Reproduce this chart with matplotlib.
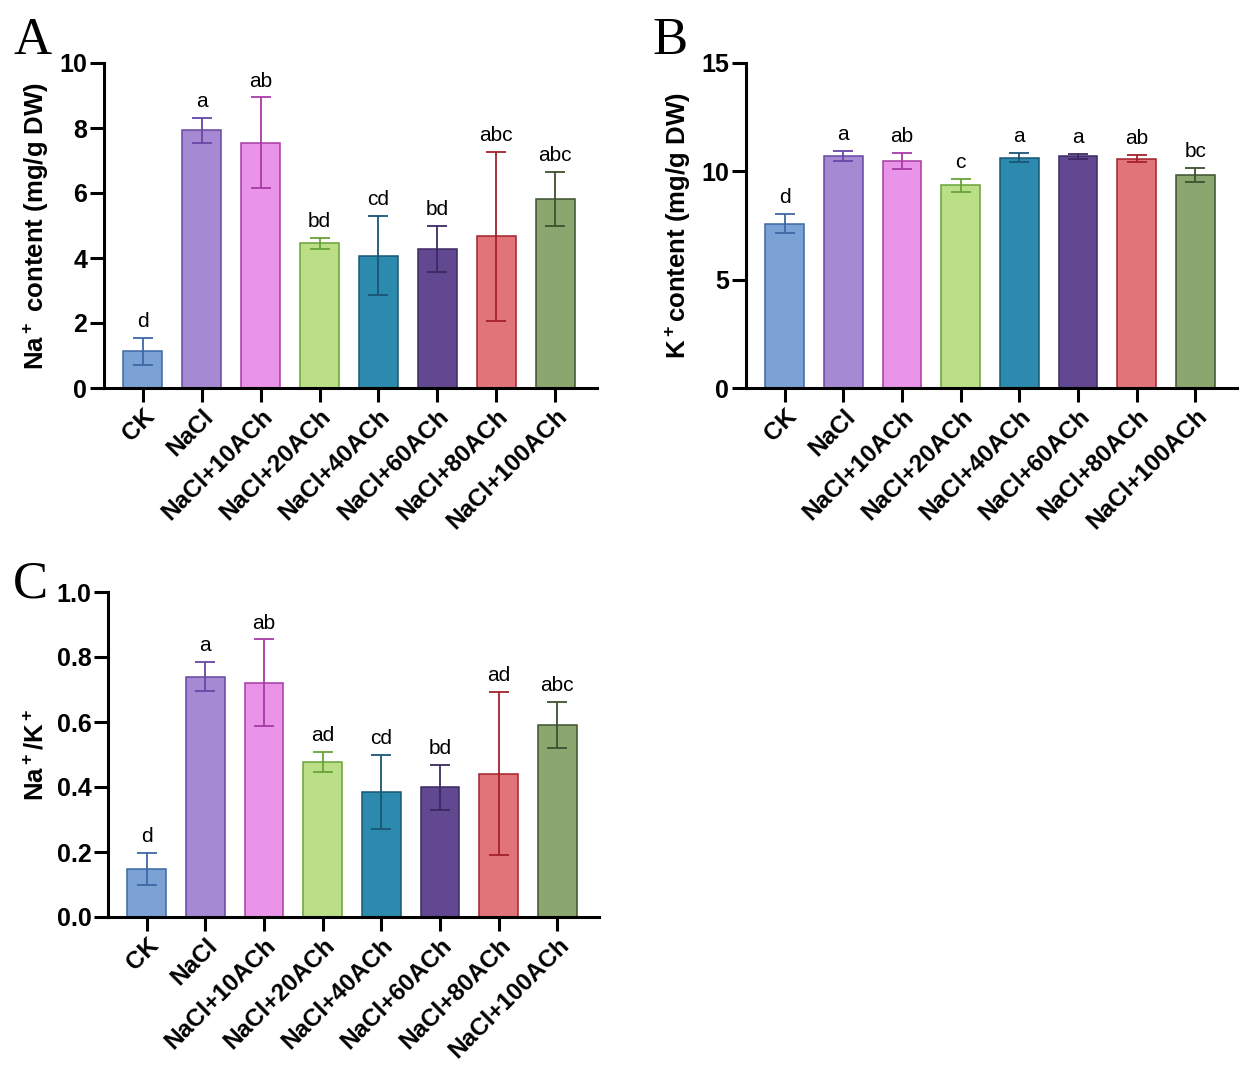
import numpy as np
import matplotlib.pyplot as plt
from matplotlib import transforms

plt.rcParams['font.family'] = ['Liberation Sans', 'DejaVu Sans']
plt.rcParams['mathtext.fontset'] = 'custom'
plt.rcParams['mathtext.rm'] = 'Liberation Sans:bold'
plt.rcParams['mathtext.bf'] = 'Liberation Sans:bold'
plt.rcParams['mathtext.default'] = 'bf'

# treatments
groups = ['CK', 'NaCl', 'NaCl+10ACh', 'NaCl+20ACh', 'NaCl+40ACh',
          'NaCl+60ACh', 'NaCl+80ACh', 'NaCl+100ACh']

# A: Na+ content (mg/g DW)
na_mean = [1.13, 7.93, 7.55, 4.45, 4.07, 4.29, 4.67, 5.82]
na_err = [0.42, 0.38, 1.39, 0.18, 1.22, 0.71, 2.60, 0.83]
na_sig = ['d', 'a', 'ab', 'bd', 'cd', 'bd', 'abc', 'abc']

# B: K+ content (mg/g DW)
k_mean = [7.58, 10.69, 10.48, 9.35, 10.63, 10.69, 10.58, 9.82]
k_err = [0.44, 0.23, 0.36, 0.30, 0.20, 0.10, 0.16, 0.33]
k_sig = ['d', 'a', 'ab', 'c', 'a', 'a', 'ab', 'bc']

# C: Na+/K+
ratio_mean = [0.148, 0.739, 0.721, 0.476, 0.384, 0.399, 0.441, 0.591]
ratio_err = [0.048, 0.045, 0.133, 0.031, 0.114, 0.070, 0.251, 0.072]
ratio_sig = ['d', 'a', 'ab', 'ad', 'cd', 'bd', 'ad', 'abc']

fills = ['#7ba1d5', '#a58ad3', '#e994e8', '#badf87', '#2d8aaf',
         '#624791', '#e07479', '#8ba66e']
edges = ['#3d68a6', '#6747a5', '#a83aa6', '#6aa238', '#1a5674',
         '#3b2a63', '#a3222c', '#3d5230']

W, H = 1250, 1080
fig = plt.figure(figsize=(W / 100, H / 100), dpi=100)


def panel(rect, means, errs, sigs, ylim, yticks, ylabel, fmt, letter, letter_xy):
    ax = fig.add_axes(rect)
    x = np.arange(len(groups))
    ax.bar(x, means, width=0.66, color=fills, edgecolor=edges, linewidth=1.1, zorder=2)
    for i in range(len(groups)):
        ax.errorbar(x[i], means[i], yerr=errs[i], color=edges[i], elinewidth=1.3,
                    capsize=7, capthick=1.3, zorder=3)
        ax.annotate(sigs[i], (x[i], means[i] + errs[i]), xytext=(0, 5),
                    textcoords='offset points', ha='center', va='bottom',
                    fontsize=15)
    ax.set_xlim(-0.66, 7.71)
    ax.set_ylim(*ylim)
    ax.set_yticks(yticks)
    ax.yaxis.set_major_formatter(plt.FormatStrFormatter(fmt))
    ax.set_xticks(x)
    ax.set_xticklabels(groups, rotation=45, ha='right', va='top',
                       rotation_mode='anchor', fontsize=17.5, fontweight='bold')
    offset = transforms.ScaledTranslation(9 / 100, -4 / 100, fig.dpi_scale_trans)
    for lab in ax.get_xticklabels():
        lab.set_transform(lab.get_transform() + offset)
    for lab in ax.get_yticklabels():
        lab.set_fontweight('bold')
        lab.set_fontsize(18)
    ax.spines['top'].set_visible(False)
    ax.spines['right'].set_visible(False)
    ax.spines['left'].set_linewidth(2.2)
    ax.spines['bottom'].set_linewidth(2.2)
    ax.tick_params(axis='both', width=2.2, length=10, pad=2)
    ax.set_ylabel(ylabel, fontsize=18.5, fontweight='bold', labelpad=6)
    fig.text(letter_xy[0], letter_xy[1], letter, fontsize=38,
             family=['Liberation Serif', 'DejaVu Serif'], ha='left', va='top')
    return ax


panel([104 / W, 1 - 388 / H, 493 / W, 325 / H], na_mean, na_err, na_sig,
      (0, 10), [0, 2, 4, 6, 8, 10], r'Na$^+$ content (mg/g DW)', '%d',
      'A', (13 / W, 1 - 17 / H))
panel([746 / W, 1 - 388 / H, 491 / W, 325 / H], k_mean, k_err, k_sig,
      (0, 15), [0, 5, 10, 15], r'K$^+$content (mg/g DW)', '%d',
      'B', (652 / W, 1 - 17 / H))
panel([108 / W, 1 - 917 / H, 491 / W, 325 / H], ratio_mean, ratio_err, ratio_sig,
      (0, 1.0), [0.0, 0.2, 0.4, 0.6, 0.8, 1.0], r'Na$^+$/K$^+$', '%.1f',
      'C', (13 / W, 1 - 561 / H))

fig.savefig('out.png', dpi=100)
